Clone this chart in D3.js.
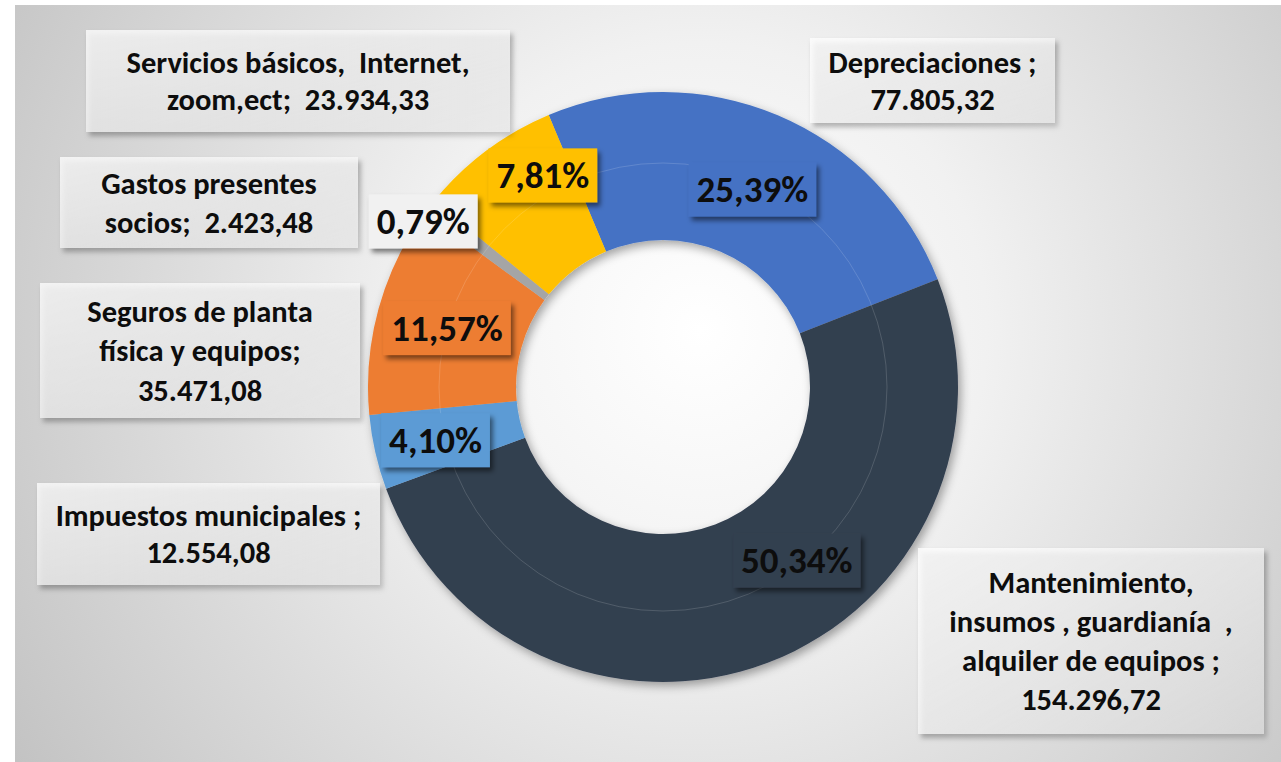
<!DOCTYPE html>
<html>
<head>
<meta charset="utf-8">
<script src="https://cdn.jsdelivr.net/npm/d3@7"></script>
<style>
  body { margin: 0; background: #fff; }
  text { font-family: Carlito, Lato, sans-serif; font-weight: bold; fill: #0d0d0d; white-space: pre; }
</style>
</head>
<body>
<svg id="chart" width="1281" height="762"></svg>
<script>
// data, clockwise from the "Depreciaciones" slice
var categories = ['Depreciaciones', 'Mantenimiento', 'Impuestos municipales', 'Seguros de planta', 'Gastos presentes socios', 'Servicios básicos'];
var values = [77805.32, 154296.72, 12554.08, 35471.08, 2423.48, 23934.33];
var percentLabels = ['25,39%', '50,34%', '4,10%', '11,57%', '0,79%', '7,81%'];
var categoryLines = [
	['Depreciaciones ;', '77.805,32'],
	['Mantenimiento,', 'insumos , guardianía  ,', 'alquiler de equipos ;', '154.296,72'],
	['Impuestos municipales ;', '12.554,08'],
	['Seguros de planta', 'física y equipos;', '35.471,08'],
	['Gastos presentes', 'socios;  2.423,48'],
	['Servicios básicos,  Internet,', 'zoom,ect;  23.934,33']
];
var colors = ['#4472C4', '#333F50', '#5B9BD5', '#ED7D31', '#A5A5A5', '#FFC000'];

// layout
var width = 1281, height = 762;
var cx = 663, cy = 387, outerR = 295, innerR = 147;
var startDeg = -22.8;
// nudges of the % labels from the slice centroid (px)
var pctNudge = [[3, 7], [55, -34], [-11, 4], [-2, 0], [-64, -30], [13, -34]];
var pctFill = ['#4472C4', '#333F50', '#5B9BD5', '#ED7D31', '#f1f1f1', '#FFC000'];
// callout boxes: x, y, w, h
var calloutBox = [
	[810, 38, 245, 85],
	[918, 548, 346, 186],
	[37, 483, 343, 102],
	[40, 283, 320, 135],
	[60, 157, 298, 91],
	[86, 30, 424, 102]
];
var lineHeight = [37, 39, 36.5, 39.5, 39, 36.5];

var svg = d3.select('#chart');
var defs = svg.append('defs');

var bg = defs.append('radialGradient').attr('id', 'bg')
	.attr('gradientUnits', 'userSpaceOnUse')
	.attr('cx', 700).attr('cy', 330).attr('r', 820);
bg.append('stop').attr('offset', '0%').attr('stop-color', '#ffffff');
bg.append('stop').attr('offset', '35%').attr('stop-color', '#f1f1f1');
bg.append('stop').attr('offset', '100%').attr('stop-color', '#c2c2c2');

var boxGrad = defs.append('linearGradient').attr('id', 'boxGrad')
	.attr('x1', 0).attr('y1', 0).attr('x2', 1).attr('y2', 1);
boxGrad.append('stop').attr('offset', '0%').attr('stop-color', '#ffffff').attr('stop-opacity', 0.75);
boxGrad.append('stop').attr('offset', '100%').attr('stop-color', '#ffffff').attr('stop-opacity', 0.35);

var ringShadow = defs.append('filter').attr('id', 'ringShadow')
	.attr('x', '-20%').attr('y', '-20%').attr('width', '140%').attr('height', '140%');
ringShadow.append('feDropShadow').attr('dx', 3).attr('dy', 4).attr('stdDeviation', 5)
	.attr('flood-color', '#000').attr('flood-opacity', 0.35);

var boxShadow = defs.append('filter').attr('id', 'boxShadow')
	.attr('x', '-10%').attr('y', '-10%').attr('width', '125%').attr('height', '130%');
boxShadow.append('feDropShadow').attr('dx', 3).attr('dy', 4).attr('stdDeviation', 2.5)
	.attr('flood-color', '#000').attr('flood-opacity', 0.5);

// chart area
svg.append('rect')
	.attr('x', 15).attr('y', 5)
	.attr('width', width - 15).attr('height', height - 5)
	.attr('fill', 'url(#bg)');

var pie = d3.pie()
	.sort(null)
	.startAngle(startDeg * Math.PI / 180)
	.endAngle(startDeg * Math.PI / 180 + 2 * Math.PI);

var arcs = pie(values);

var arc = d3.arc().innerRadius(innerR).outerRadius(outerR);
var labelArc = d3.arc().innerRadius(222).outerRadius(222);

var g = svg.append('g').attr('transform', 'translate(' + cx + ',' + cy + ')');

g.append('g')
	.attr('filter', 'url(#ringShadow)')
	.selectAll('path')
	.data(arcs)
	.enter()
	.append('path')
	.attr('d', arc)
	.attr('fill', function(d, i) { return colors[i]; });

// faint inner ring line
g.append('circle')
	.attr('r', 224)
	.attr('fill', 'none')
	.attr('stroke', '#ffffff')
	.attr('stroke-opacity', 0.15)
	.attr('stroke-width', 1);

// percentage labels
var pct = g.selectAll('g.pct')
	.data(arcs)
	.enter()
	.append('g')
	.attr('class', 'pct')
	.attr('transform', function(d, i) {
		var c = labelArc.centroid(d);
		return 'translate(' + (c[0] + pctNudge[i][0]) + ',' + (c[1] + pctNudge[i][1]) + ')';
	});

pct.append('text')
	.attr('text-anchor', 'middle')
	.attr('dy', '0.35em')
	.style('font-size', '37px')
	.text(function(d, i) { return percentLabels[i]; });

pct.each(function(d, i) {
	var t = d3.select(this).select('text');
	var w = t.node().getComputedTextLength();
	d3.select(this).insert('rect', 'text')
		.attr('x', -w / 2 - 8).attr('y', -27)
		.attr('width', w + 16).attr('height', 54)
		.attr('fill', pctFill[i])
		.attr('filter', 'url(#boxShadow)');
});

// category callouts
var callouts = svg.selectAll('g.callout')
	.data(categories)
	.enter()
	.append('g')
	.attr('class', 'callout');

callouts.append('rect')
	.attr('x', function(d, i) { return calloutBox[i][0]; })
	.attr('y', function(d, i) { return calloutBox[i][1]; })
	.attr('width', function(d, i) { return calloutBox[i][2]; })
	.attr('height', function(d, i) { return calloutBox[i][3]; })
	.attr('fill', 'url(#boxGrad)')
	.attr('filter', 'url(#boxShadow)');

callouts.each(function(d, i) {
	var b = calloutBox[i];
	var lines = categoryLines[i];
	var lh = lineHeight[i];
	var top = b[1] + b[3] / 2 - (lines.length - 1) * lh / 2;
	d3.select(this).selectAll('text')
		.data(lines)
		.enter()
		.append('text')
		.attr('x', b[0] + b[2] / 2)
		.attr('y', function(l, j) { return top + j * lh; })
		.attr('dy', '0.35em')
		.attr('text-anchor', 'middle')
		.style('font-size', '30.5px')
		.text(function(l) { return l; });
});
</script>
</body>
</html>
